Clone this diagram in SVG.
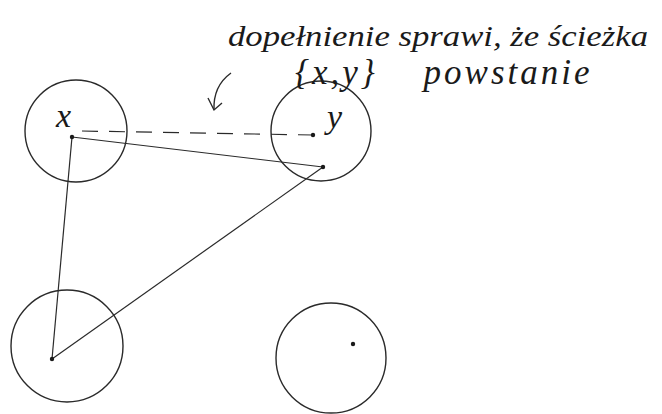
<svg xmlns="http://www.w3.org/2000/svg" width="662" height="414" viewBox="0 0 662 414">
<style>
.c{fill:none;stroke:#2a2a2a;stroke-width:1.4}
.e{fill:none;stroke:#2a2a2a;stroke-width:1.2}
.d{fill:#1a1a1a}
.t{font-family:"Liberation Serif",serif;font-style:italic;fill:#1a1a1a}
.lbl{font-size:34px}
.note{font-size:30px}
.note2{font-size:35px;letter-spacing:3px;word-spacing:34px}
</style>
<rect width="662" height="414" fill="#fff"/>
<g id="connectors">
<path class="e" d="M82,131 L313,135" stroke-dasharray="16,11"/>
<path class="e" d="M72,137 L323,167"/>
<path class="e" d="M72,137 L52,359"/>
<path class="e" d="M52,359 L323,167"/>
</g>
<g id="node-x">
<circle class="c" cx="76" cy="131" r="51"/>
<text class="t lbl" x="56" y="127">x</text>
<circle class="d" cx="72" cy="137" r="2.2"/>
</g>
<g id="node-y">
<circle class="c" cx="321" cy="131" r="50"/>
<text class="t lbl" x="327" y="128">y</text>
<circle class="d" cx="313" cy="135" r="2.2"/>
<circle class="d" cx="323" cy="167" r="2.2"/>
</g>
<g id="node-bl">
<circle class="c" cx="67" cy="346" r="56"/>
<circle class="d" cx="52" cy="359" r="2.2"/>
</g>
<g id="node-br">
<circle class="c" cx="331" cy="358" r="55"/>
<circle class="d" cx="353" cy="344" r="2.2"/>
</g>
<g id="annotation">
<text class="t note" x="228" y="46" textLength="420" lengthAdjust="spacingAndGlyphs">dopełnienie sprawi, że ścieżka</text>
<text class="t note2" x="295" y="84">{x,y} powstanie</text>
<path class="c" d="M231,73 Q213,86 214,110"/>
<path class="c" d="M208,98 L214,110 L222,103"/>
</g>
</svg>
